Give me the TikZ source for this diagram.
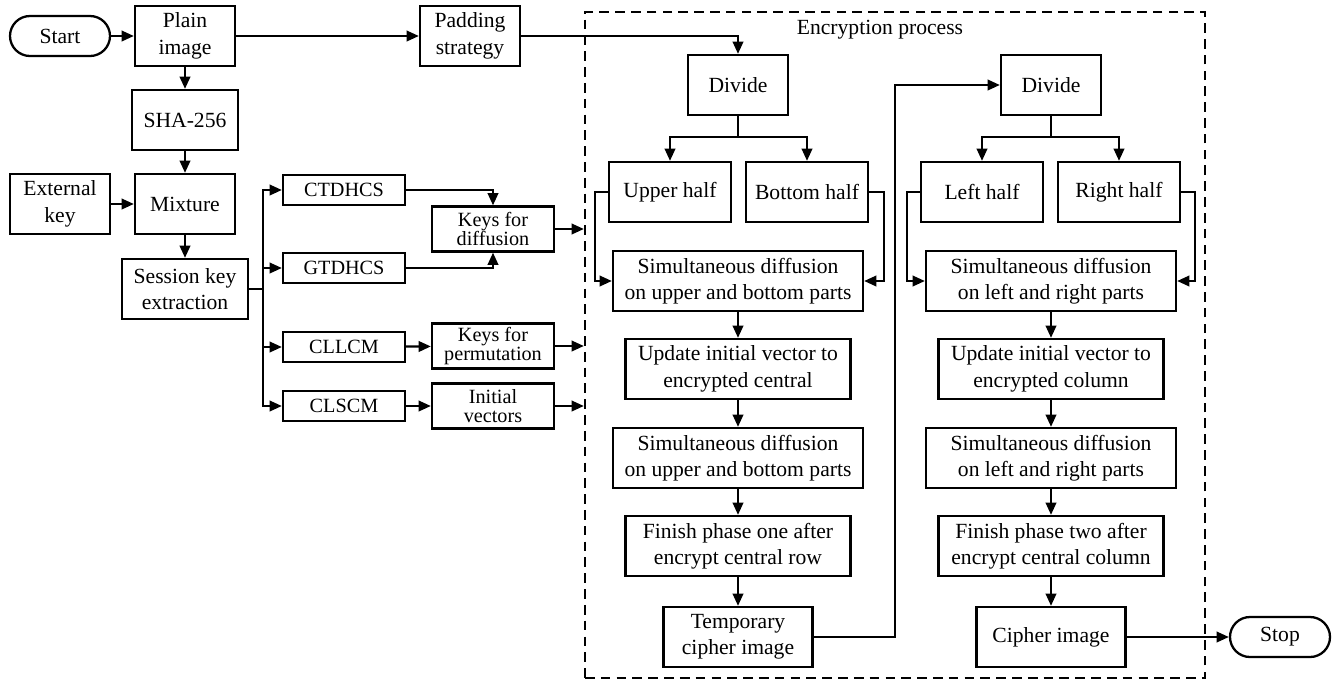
\documentclass[tikz,border=0pt]{standalone}
\usepackage{fontspec}
\setmainfont{Liberation Serif}
\usepackage{tikz}
\usetikzlibrary{arrows.meta,positioning,calc}

\begin{document}
\begin{tikzpicture}[
  line width=1.3pt,
  >={Triangle[length=7pt,width=6pt]},
  font=\fontsize{12.3}{15}\selectfont,
  blk/.style={rectangle, draw, align=center, inner sep=2pt, minimum width=2cm, minimum height=1.2cm},
  pill/.style={rectangle, draw, rounded corners=0.4cm, minimum width=2cm, minimum height=0.8cm},
  keyblk/.style={rectangle, draw, align=center, inner sep=1pt, minimum width=2.44cm, font=\fontsize{11.5}{11}\selectfont},
  flow/.style={->}
]
  \useasboundingbox (0,0) rectangle (26.84,-13.62);

  % Encryption frame
  \node[draw, dash pattern=on 5.5pt off 3.5pt, minimum width=12.4cm, minimum height=13.32cm, inner sep=0pt] (enc) at (17.9,-6.9) {};
  \node (title) at (17.6,-0.6) {Encryption process};

  % Key generation
  \node[pill] (start) at (1.2,-0.72) {Start};
  \node[blk] (plain) at (3.7,-0.72) {Plain\\image};
  \node[blk] (pad) at (9.4,-0.72) {Padding\\strategy};
  \node[blk, minimum width=2.12cm] (sha) at (3.7,-2.4) {SHA-256};
  \node[blk] (ext) at (1.2,-4.08) {External\\key};
  \node[blk] (mix) at (3.7,-4.08) {Mixture};
  \node[blk, minimum width=2.52cm] (sess) at (3.7,-5.78) {Session key\\extraction};

  \node[keyblk, minimum height=0.6cm] (ctd) at (6.88,-3.8) {CTDHCS};
  \node[keyblk, minimum height=0.6cm] (gtd) at (6.88,-5.36) {GTDHCS};
  \node[keyblk, minimum height=0.6cm] (cll) at (6.88,-6.94) {CLLCM};
  \node[keyblk, minimum height=0.6cm] (cls) at (6.88,-8.12) {CLSCM};
  \node[keyblk, minimum height=0.9cm] (kdiff) at (9.86,-4.58) {Keys for\\diffusion};
  \node[keyblk, minimum height=0.9cm] (kperm) at (9.86,-6.92) {Keys for\\permutation};
  \node[keyblk, minimum height=0.9cm] (ivec) at (9.86,-8.12) {Initial\\vectors};

  % Phase one
  \node[blk] (div1) at (14.76,-1.7) {Divide};
  \node[blk, minimum width=2.44cm] (upper) at (13.4,-3.84) {Upper half};
  \node[blk, minimum width=2.44cm] (bottom) at (16.14,-3.84) {Bottom half};
  \node[blk, minimum width=5cm] (sim1) at (14.76,-5.62) {Simultaneous diffusion\\on upper and bottom parts};
  \node[blk, minimum width=4.5cm] (upd1) at (14.76,-7.38) {Update initial vector to\\encrypted central};
  \node[blk, minimum width=5cm] (sim3) at (14.76,-9.16) {Simultaneous diffusion\\on upper and bottom parts};
  \node[blk, minimum width=4.5cm] (fin1) at (14.76,-10.92) {Finish phase one after\\encrypt central row};
  \node[blk, minimum width=2.98cm] (temp) at (14.76,-12.74) {Temporary\\cipher image};

  % Phase two
  \node[blk] (div2) at (21.02,-1.7) {Divide};
  \node[blk, minimum width=2.44cm] (lefth) at (19.64,-3.84) {Left half};
  \node[blk, minimum width=2.44cm] (righth) at (22.38,-3.84) {Right half};
  \node[blk, minimum width=5cm] (sim2) at (21.02,-5.62) {Simultaneous diffusion\\on left and right parts};
  \node[blk, minimum width=4.5cm] (upd2) at (21.02,-7.38) {Update initial vector to\\encrypted column};
  \node[blk, minimum width=5cm] (sim4) at (21.02,-9.16) {Simultaneous diffusion\\on left and right parts};
  \node[blk, minimum width=4.5cm] (fin2) at (21.02,-10.92) {Finish phase two after\\encrypt central column};
  \node[blk, minimum width=2.98cm] (cipher) at (21.02,-12.74) {Cipher image};
  \node[pill] (stop) at (25.6,-12.74) {Stop};

  \coordinate (br) at (5.26,-5.78);
  \coordinate (sp1) at (14.76,-2.74);
  \coordinate (sp2) at (21.02,-2.74);
  \coordinate (lp) at (17.9,-12.74);

  % Relations
  \draw[flow] (start) -- (plain);
  \draw[flow] (plain) -- (pad);
  \draw[flow] (pad.east) -| (div1.north);
  \draw[flow] (plain) -- (sha);
  \draw[flow] (sha) -- (mix);
  \draw[flow] (ext) -- (mix);
  \draw[flow] (mix) -- (sess);
  \draw (sess.east) -- (br);
  \draw[flow] (br) |- (ctd.west);
  \draw[flow] (br) |- (gtd.west);
  \draw[flow] (br) |- (cll.west);
  \draw[flow] (br) |- (cls.west);
  \draw[flow] (ctd.east) -| (kdiff.north);
  \draw[flow] (gtd.east) -| (kdiff.south);
  \draw[flow] (cll) -- (kperm);
  \draw[flow] (cls) -- (ivec);
  \draw[flow] (kdiff.east) -- (kdiff.east -| enc.west);
  \draw[flow] (kperm.east) -- (kperm.east -| enc.west);
  \draw[flow] (ivec.east) -- (ivec.east -| enc.west);

  \draw (div1.south) -- (sp1);
  \draw[flow] (sp1) -| (upper.north);
  \draw[flow] (sp1) -| (bottom.north);
  \draw[flow] (upper.west) -- ++(-0.26,0) |- (sim1.west);
  \draw[flow] (bottom.east) -- ++(0.3,0) |- (sim1.east);
  \draw[flow] (sim1) -- (upd1);
  \draw[flow] (upd1) -- (sim3);
  \draw[flow] (sim3) -- (fin1);
  \draw[flow] (fin1) -- (temp);
  \draw[flow] (temp.east) -- (lp) |- (div2.west);

  \draw (div2.south) -- (sp2);
  \draw[flow] (sp2) -| (lefth.north);
  \draw[flow] (sp2) -| (righth.north);
  \draw[flow] (lefth.west) -- ++(-0.26,0) |- (sim2.west);
  \draw[flow] (righth.east) -- ++(0.28,0) |- (sim2.east);
  \draw[flow] (sim2) -- (upd2);
  \draw[flow] (upd2) -- (sim4);
  \draw[flow] (sim4) -- (fin2);
  \draw[flow] (fin2) -- (cipher);
  \draw[flow] (cipher) -- (stop);
\end{tikzpicture}
\end{document}
